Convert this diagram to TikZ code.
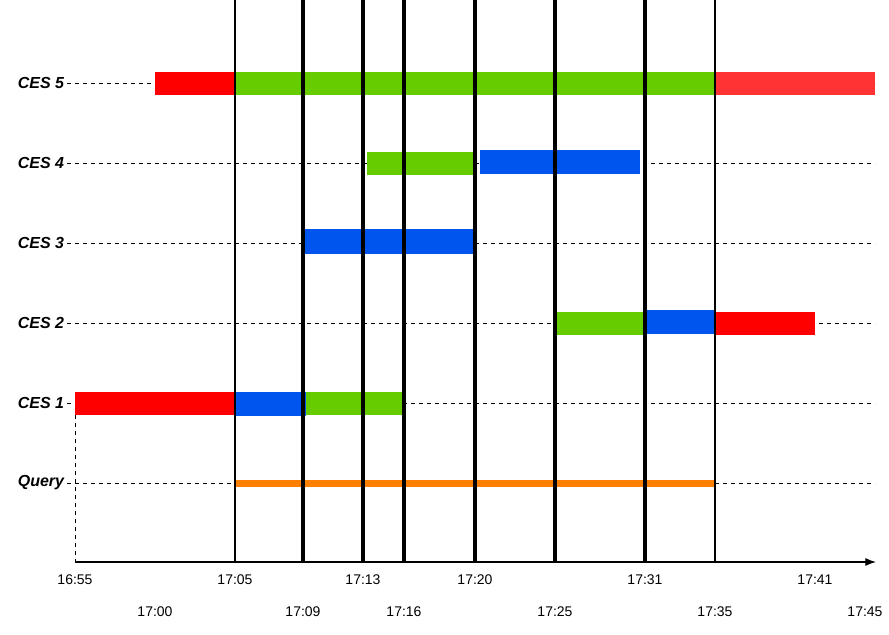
\documentclass[tikz,border=0pt]{standalone}
\usepackage{fontspec}
\setmainfont{Liberation Sans}
\usetikzlibrary{arrows.meta}
\definecolor{cgreen}{RGB}{102,204,0}
\definecolor{cblue}{RGB}{0,85,238}
\definecolor{cred}{RGB}{255,0,0}
\definecolor{clred}{RGB}{255,51,51}
\definecolor{corange}{RGB}{255,128,0}
\tikzset{
  rowlabel/.style={anchor=east,inner sep=2pt,font=\bfseries\itshape\fontsize{12}{14}\selectfont},
  ticklabel/.style={font=\fontsize{10.5}{12}\selectfont},
  guide/.style={dashed,line width=0.4pt},
  bar/.style={fill=#1,draw=none},
  thin/.style={line width=0.8pt},
  thick/.style={line width=2.6pt}
}
\begin{document}
\begin{tikzpicture}[x=0.75pt,y=-0.75pt]
  \useasboundingbox (0,0) rectangle (889,635);
  % row labels and guides
  \foreach \name/\txt/\y in {r5/CES 5/83,r4/CES 4/163,r3/CES 3/243,r2/CES 2/323,r1/CES 1/403,rq/Query/483}{
    \node[rowlabel] (\name) at (67,\y) {\txt};
    \coordinate (\name e) at (875,\y);
    \draw[guide] (\name.east) -- (\name e);
  }
  % bars
  \fill[cred]  (155,72) rectangle (235,95);
  \fill[cgreen] (235,72) rectangle (715,95);
  \fill[clred] (715,72) rectangle (875,95);
  \fill[cgreen] (367,152) rectangle (475,175);
  \fill[cblue] (480,150) rectangle (640,174);
  \fill[cblue] (305,229) rectangle (477,254);
  \fill[cgreen] (557,312) rectangle (645,335);
  \fill[cblue] (645,310) rectangle (715,334);
  \fill[cred]  (715,312) rectangle (815,335);
  \fill[cred]  (75,392) rectangle (235,415);
  \fill[cblue] (235,392) rectangle (306,416);
  \fill[cgreen] (306,392) rectangle (402,415);
  \fill[corange] (235,480) rectangle (715,487);
  % time lines
  \foreach \x/\s in {235/thin,303/thick,363/thick,404/thick,475/thick,555/thick,645/thick,715/thin}
    \draw[\s] (\x,0) -- (\x,562);
  \draw[guide] (75,415) -- (75,562);
  % axis
  \coordinate (o) at (75,562);
  \coordinate (e) at (876,562);
  \draw[-{Latex[length=8pt,width=6pt]},thin] (o) -- (e);
  \foreach \x/\t in {75/16:55,235/17:05,363/17:13,475/17:20,645/17:31,815/17:41}
    \node[ticklabel] at (\x,580) {\t};
  \foreach \x/\t in {155/17:00,303/17:09,404/17:16,555/17:25,715/17:35,865/17:45}
    \node[ticklabel] at (\x,612) {\t};
\end{tikzpicture}
\end{document}
